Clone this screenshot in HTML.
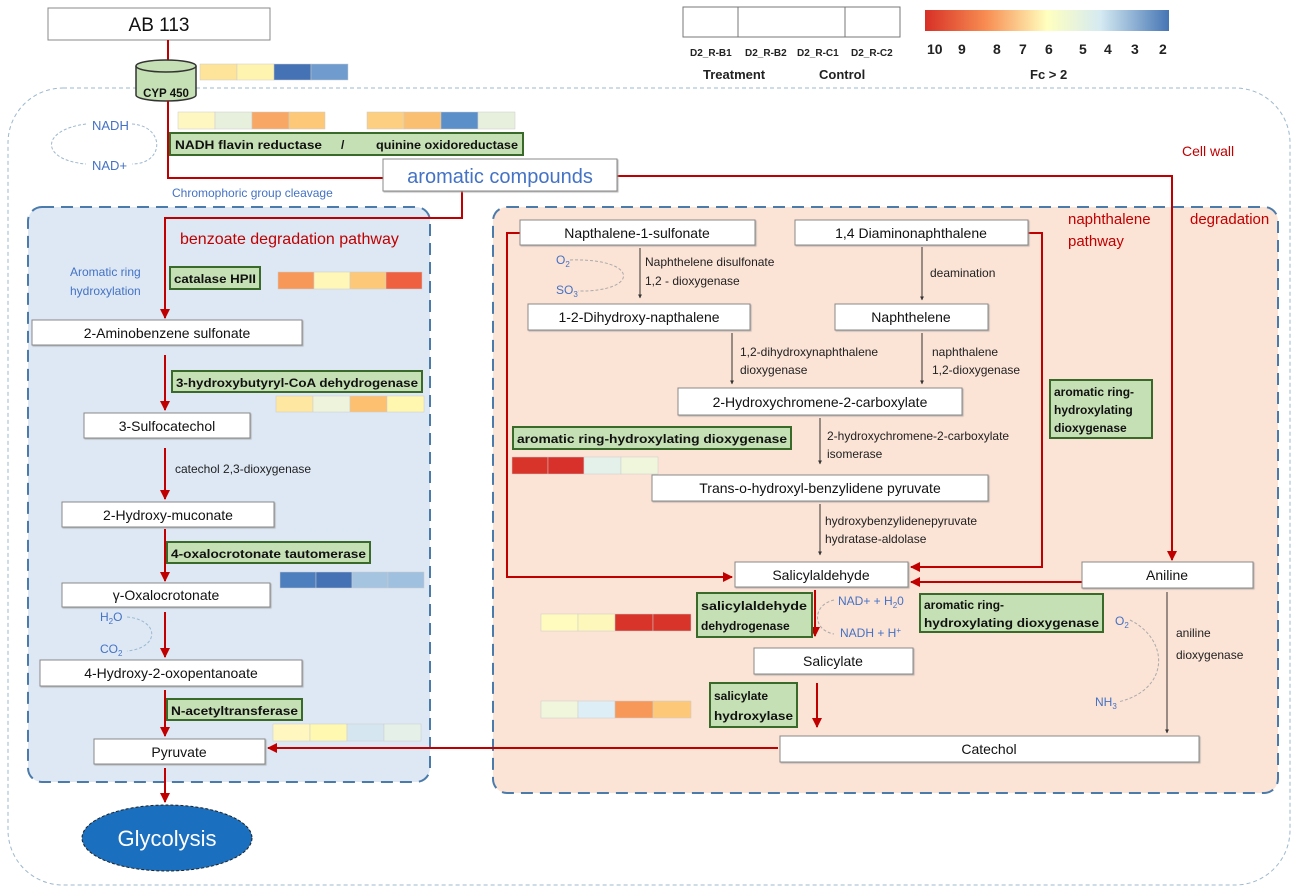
<!DOCTYPE html>
<html><head><meta charset="utf-8"><style>
html,body{margin:0;padding:0;background:#fff;width:1300px;height:894px;overflow:hidden}
svg{display:block}
text{font-family:"Liberation Sans",sans-serif}
</style></head><body>
<svg width="1300" height="894" viewBox="0 0 1300 894" xmlns="http://www.w3.org/2000/svg">
<defs>
<marker id="ar" viewBox="0 0 10 10" refX="9" refY="5" markerWidth="5" markerHeight="5" orient="auto"><path d="M0,0 L10,5 L0,10z" fill="#c00000"/></marker>
<marker id="ak" viewBox="0 0 10 10" refX="9" refY="5" markerWidth="4" markerHeight="4" orient="auto"><path d="M0,0 L10,5 L0,10z" fill="#333"/></marker>
<linearGradient id="fc" x1="0" x2="1"><stop offset="0" stop-color="#d73027"/><stop offset="0.25" stop-color="#f88d52"/><stop offset="0.5" stop-color="#ffffbf"/><stop offset="0.72" stop-color="#d5eaf2"/><stop offset="1" stop-color="#4575b4"/></linearGradient>
<filter id="sh"><feDropShadow dx="1" dy="1" stdDeviation="0.6" flood-color="#999" flood-opacity="0.7"/></filter>
</defs>

<rect x="8" y="88" width="1282" height="797" rx="55" fill="none" stroke="#9db8cf" stroke-width="1" stroke-dasharray="4,3"/>

<rect x="28" y="207" width="402" height="575" rx="14" fill="#dde8f4" stroke="#4a7bab" stroke-width="2" stroke-dasharray="12,7"/>
<rect x="493" y="207" width="785" height="586" rx="14" fill="#fbe3d6" stroke="#4a7bab" stroke-width="2" stroke-dasharray="12,7"/>

<rect x="683" y="7" width="217" height="30" fill="#fff" stroke="#777"/>
<line x1="738" y1="7" x2="738" y2="37" stroke="#777"/><line x1="845" y1="7" x2="845" y2="37" stroke="#777"/>
<g font-size="10" font-weight="bold" fill="#222">
<text x="690" y="56">D2_R-B1</text><text x="745" y="56">D2_R-B2</text><text x="797" y="56">D2_R-C1</text><text x="851" y="56">D2_R-C2</text>
</g>
<text x="703" y="79" font-size="13" font-weight="bold" fill="#222">Treatment</text>
<text x="819" y="79" font-size="13" font-weight="bold" fill="#222">Control</text>
<rect x="925" y="10" width="244" height="21" fill="url(#fc)"/>
<g font-size="14" font-weight="bold" fill="#222">
<text x="927" y="54">10</text><text x="958" y="54">9</text><text x="993" y="54">8</text><text x="1019" y="54">7</text><text x="1045" y="54">6</text><text x="1079" y="54">5</text><text x="1104" y="54">4</text><text x="1131" y="54">3</text><text x="1159" y="54">2</text>
</g>
<text x="1030" y="79" font-size="13" font-weight="bold" fill="#222">Fc &gt; 2</text>

<rect x="48" y="8" width="222" height="32" fill="#fff" stroke="#888"/>
<text x="159" y="31" font-size="19" text-anchor="middle" fill="#111">AB 113</text>
<line x1="168" y1="40" x2="168" y2="62" stroke="#c00000" stroke-width="2"/>
<path d="M136,66 L136,95 A30,6 0 0 0 196,95 L196,66" fill="#c5e0b4" stroke="#333" stroke-width="1.5"/>
<ellipse cx="166" cy="66" rx="30" ry="6" fill="#c5e0b4" stroke="#333" stroke-width="1.5"/>
<text x="166" y="97" font-size="11.5" font-weight="bold" text-anchor="middle" fill="#111">CYP 450</text>

<g stroke="#ccc" stroke-width="0.5">
<rect x="200" y="64" width="37" height="16" fill="#fde49a"/><rect x="237" y="64" width="37" height="16" fill="#fff3b0"/><rect x="274" y="64" width="37" height="16" fill="#4472b4"/><rect x="311" y="64" width="37" height="16" fill="#6f9bcf"/>
<rect x="178" y="112" width="37" height="17" fill="#fff7c2"/><rect x="215" y="112" width="37" height="17" fill="#e6f0dc"/><rect x="252" y="112" width="37" height="17" fill="#f8a864"/><rect x="289" y="112" width="36" height="17" fill="#fdc878"/>
<rect x="367" y="112" width="37" height="17" fill="#fdcf80"/><rect x="404" y="112" width="37" height="17" fill="#fbbf72"/><rect x="441" y="112" width="37" height="17" fill="#5b8fca"/><rect x="478" y="112" width="37" height="17" fill="#e6f0dc"/>
<rect x="278" y="272" width="36" height="17" fill="#f89858"/><rect x="314" y="272" width="36" height="17" fill="#fff7b8"/><rect x="350" y="272" width="36" height="17" fill="#fdc878"/><rect x="386" y="272" width="36" height="17" fill="#ef6040"/>
<rect x="276" y="396" width="37" height="16" fill="#fee7a0"/><rect x="313" y="396" width="37" height="16" fill="#eef3dc"/><rect x="350" y="396" width="37" height="16" fill="#fcc070"/><rect x="387" y="396" width="37" height="16" fill="#fff6b0"/>
<rect x="280" y="572" width="36" height="16" fill="#4d7ebe"/><rect x="316" y="572" width="36" height="16" fill="#4472b4"/><rect x="352" y="572" width="36" height="16" fill="#a5c4e0"/><rect x="388" y="572" width="36" height="16" fill="#9fc0df"/>
<rect x="273" y="724" width="37" height="17" fill="#fff6c0"/><rect x="310" y="724" width="37" height="17" fill="#fff8b0"/><rect x="347" y="724" width="37" height="17" fill="#d6e6f0"/><rect x="384" y="724" width="37" height="17" fill="#e4f0e8"/>
<rect x="512" y="457" width="36" height="17" fill="#d8342a"/><rect x="548" y="457" width="36" height="17" fill="#d8302a"/><rect x="584" y="457" width="37" height="17" fill="#e4f0ea"/><rect x="621" y="457" width="37" height="17" fill="#f0f6dc"/>
<rect x="541" y="614" width="37" height="17" fill="#fffbbe"/><rect x="578" y="614" width="37" height="17" fill="#fdf7bc"/><rect x="615" y="614" width="38" height="17" fill="#d8342a"/><rect x="653" y="614" width="38" height="17" fill="#d8342a"/>
<rect x="541" y="701" width="37" height="17" fill="#f0f6dc"/><rect x="578" y="701" width="37" height="17" fill="#ddeef6"/><rect x="615" y="701" width="38" height="17" fill="#f89858"/><rect x="653" y="701" width="38" height="17" fill="#fdc878"/>
</g>

<text x="92" y="130" font-size="13" fill="#4472c4">NADH</text>
<text x="92" y="170" font-size="13" fill="#4472c4">NAD+</text>
<path d="M132,124 C165,126 165,164 132,164" fill="none" stroke="#9db8cf" stroke-dasharray="3,2"/>
<path d="M86,124 C40,130 40,160 86,164" fill="none" stroke="#9db8cf" stroke-dasharray="3,2"/>

<g fill="none" stroke="#c00000" stroke-width="2">
<polyline points="168,101 168,178 383,178"/>
<polyline points="617,176 1172,176 1172,560" marker-end="url(#ar)"/>
<polyline points="462,191 462,218 165,218 165,318" marker-end="url(#ar)"/>
<line x1="165" y1="355" x2="165" y2="410" marker-end="url(#ar)"/>
<line x1="165" y1="448" x2="165" y2="499" marker-end="url(#ar)"/>
<line x1="165" y1="529" x2="165" y2="581" marker-end="url(#ar)"/>
<line x1="165" y1="612" x2="165" y2="657" marker-end="url(#ar)"/>
<line x1="165" y1="690" x2="165" y2="736" marker-end="url(#ar)"/>
<line x1="165" y1="768" x2="165" y2="802" marker-end="url(#ar)"/>
<line x1="778" y1="748" x2="268" y2="748" marker-end="url(#ar)"/>
<polyline points="520,233 507,233 507,577 732,577" marker-end="url(#ar)"/>
<polyline points="1028,233 1042,233 1042,567 911,567" marker-end="url(#ar)"/>
<line x1="1082" y1="582" x2="911" y2="582" marker-end="url(#ar)"/>
<line x1="815" y1="590" x2="815" y2="636" marker-end="url(#ar)"/>
<line x1="817" y1="683" x2="817" y2="727" marker-end="url(#ar)"/>
</g>

<g fill="#c5e0b4" stroke="#3a6a2a" stroke-width="2">
<rect x="170" y="133" width="353" height="22"/>
<rect x="170" y="267" width="90" height="22"/>
<rect x="172" y="371" width="250" height="21"/>
<rect x="167" y="542" width="203" height="21"/>
<rect x="167" y="699" width="135" height="21"/>
<rect x="513" y="427" width="278" height="22"/>
<rect x="1050" y="380" width="102" height="58"/>
<rect x="697" y="593" width="115" height="44"/>
<rect x="920" y="594" width="183" height="38"/>
<rect x="710" y="683" width="87" height="44"/>
</g>
<g font-size="12" font-weight="bold" fill="#111" lengthAdjust="spacingAndGlyphs">
<text x="175" y="149" textLength="147" lengthAdjust="spacingAndGlyphs">NADH flavin reductase</text>
<text x="341" y="149">/</text>
<text x="376" y="149" textLength="142" lengthAdjust="spacingAndGlyphs">quinine oxidoreductase</text>
<text x="174" y="283" textLength="82" lengthAdjust="spacingAndGlyphs">catalase HPII</text>
<text x="176" y="387" textLength="242" lengthAdjust="spacingAndGlyphs">3-hydroxybutyryl-CoA dehydrogenase</text>
<text x="171" y="558" textLength="195" lengthAdjust="spacingAndGlyphs">4-oxalocrotonate tautomerase</text>
<text x="171" y="715" textLength="127" lengthAdjust="spacingAndGlyphs">N-acetyltransferase</text>
<text x="517" y="443" textLength="270" lengthAdjust="spacingAndGlyphs">aromatic ring-hydroxylating dioxygenase</text>
<text x="1054" y="396">aromatic ring-</text><text x="1054" y="414">hydroxylating</text><text x="1054" y="432">dioxygenase</text>
<text x="701" y="610" textLength="106" lengthAdjust="spacingAndGlyphs">salicylaldehyde</text><text x="701" y="630">dehydrogenase</text>
<text x="924" y="609">aromatic ring-</text><text x="924" y="627" textLength="175" lengthAdjust="spacingAndGlyphs">hydroxylating dioxygenase</text>
<text x="714" y="700">salicylate</text><text x="714" y="720" textLength="79" lengthAdjust="spacingAndGlyphs">hydroxylase</text>
</g>

<g fill="#fff" stroke="#888" stroke-width="1" filter="url(#sh)">
<rect x="383" y="159" width="234" height="32"/>
<rect x="32" y="320" width="270" height="25"/>
<rect x="84" y="413" width="166" height="25"/>
<rect x="62" y="502" width="212" height="25"/>
<rect x="62" y="583" width="208" height="24"/>
<rect x="40" y="660" width="262" height="26"/>
<rect x="94" y="739" width="171" height="25"/>
<rect x="520" y="220" width="235" height="25"/>
<rect x="795" y="220" width="233" height="25"/>
<rect x="528" y="304" width="222" height="26"/>
<rect x="835" y="304" width="153" height="26"/>
<rect x="678" y="388" width="284" height="27"/>
<rect x="652" y="475" width="336" height="26"/>
<rect x="735" y="562" width="173" height="25"/>
<rect x="1082" y="562" width="171" height="26"/>
<rect x="754" y="648" width="159" height="26"/>
<rect x="780" y="736" width="419" height="26"/>
</g>
<text x="500" y="183" font-size="20" text-anchor="middle" fill="#4472c4">aromatic compounds</text>
<g font-size="14" text-anchor="middle" fill="#111">
<text x="167" y="338">2-Aminobenzene sulfonate</text>
<text x="167" y="431">3-Sulfocatechol</text>
<text x="168" y="520">2-Hydroxy-muconate</text>
<text x="166" y="600">γ-Oxalocrotonate</text>
<text x="171" y="678">4-Hydroxy-2-oxopentanoate</text>
<text x="179" y="757">Pyruvate</text>
<text x="637" y="238">Napthalene-1-sulfonate</text>
<text x="911" y="238">1,4 Diaminonaphthalene</text>
<text x="639" y="322">1-2-Dihydroxy-napthalene</text>
<text x="911" y="322">Naphthelene</text>
<text x="820" y="407">2-Hydroxychromene-2-carboxylate</text>
<text x="820" y="493">Trans-o-hydroxyl-benzylidene pyruvate</text>
<text x="821" y="580">Salicylaldehyde</text>
<text x="1167" y="580">Aniline</text>
<text x="833" y="666">Salicylate</text>
<text x="989" y="754">Catechol</text>
</g>

<text x="172" y="197" font-size="12" fill="#4472c4">Chromophoric group cleavage</text>
<text x="1182" y="156" font-size="14" fill="#c00000">Cell wall</text>
<text x="180" y="244" font-size="16" fill="#c00000">benzoate degradation pathway</text>
<text x="70" y="276" font-size="12" fill="#4472c4">Aromatic ring</text>
<text x="70" y="295" font-size="12" fill="#4472c4">hydroxylation</text>
<text x="175" y="473" font-size="12" fill="#222">catechol 2,3-dioxygenase</text>
<text x="100" y="621" font-size="12" fill="#4472c4">H<tspan font-size="8" dy="3">2</tspan><tspan dy="-3">O</tspan></text>
<text x="100" y="653" font-size="12" fill="#4472c4">CO<tspan font-size="8" dy="3">2</tspan></text>
<path d="M127,617 C160,620 160,648 127,651" fill="none" stroke="#9db8cf" stroke-dasharray="3,2"/>

<text x="1068" y="224" font-size="15" fill="#c00000">naphthalene</text>
<text x="1068" y="246" font-size="15" fill="#c00000">pathway</text>
<text x="1190" y="224" font-size="15" fill="#c00000">degradation</text>

<g font-size="12" fill="#222">
<text x="645" y="266">Naphthelene disulfonate</text><text x="645" y="285">1,2 - dioxygenase</text>
<text x="930" y="277">deamination</text>
<text x="740" y="356">1,2-dihydroxynaphthalene</text><text x="740" y="374">dioxygenase</text>
<text x="932" y="356">naphthalene</text><text x="932" y="374">1,2-dioxygenase</text>
<text x="827" y="440">2-hydroxychromene-2-carboxylate</text><text x="827" y="458">isomerase</text>
<text x="825" y="525">hydroxybenzylidenepyruvate</text><text x="825" y="543">hydratase-aldolase</text>
<text x="1176" y="637">aniline</text><text x="1176" y="659">dioxygenase</text>
</g>
<g font-size="12" fill="#4472c4">
<text x="556" y="264">O<tspan font-size="8" dy="3">2</tspan></text>
<text x="556" y="294">SO<tspan font-size="8" dy="3">3</tspan></text>
<text x="838" y="605">NAD+ + H<tspan font-size="8" dy="3">2</tspan><tspan dy="-3">0</tspan></text>
<text x="840" y="637">NADH + H<tspan font-size="8" dy="-4">+</tspan></text>
<text x="1115" y="625">O<tspan font-size="8" dy="3">2</tspan></text>
<text x="1095" y="706">NH<tspan font-size="8" dy="3">3</tspan></text>
</g>
<g fill="none" stroke="#aaa" stroke-dasharray="3,2">
<path d="M570,260 C640,258 640,292 578,291"/>
<path d="M834,600 C812,605 812,630 834,634"/>
<path d="M1130,620 C1170,640 1170,690 1118,702"/>
</g>
<g stroke="#333" stroke-width="1" marker-end="url(#ak)">
<line x1="640" y1="248" x2="640" y2="298"/>
<line x1="922" y1="247" x2="922" y2="300"/>
<line x1="732" y1="333" x2="732" y2="384"/>
<line x1="922" y1="333" x2="922" y2="384"/>
<line x1="820" y1="418" x2="820" y2="464"/>
<line x1="820" y1="504" x2="820" y2="555"/>
<line x1="1167" y1="592" x2="1167" y2="733"/>
</g>

<ellipse cx="167" cy="838" rx="85" ry="33" fill="#1a6fbf" stroke="#222" stroke-width="1" stroke-dasharray="3,2"/>
<text x="167" y="846" font-size="22" text-anchor="middle" fill="#fff">Glycolysis</text>
</svg>
</body></html>
